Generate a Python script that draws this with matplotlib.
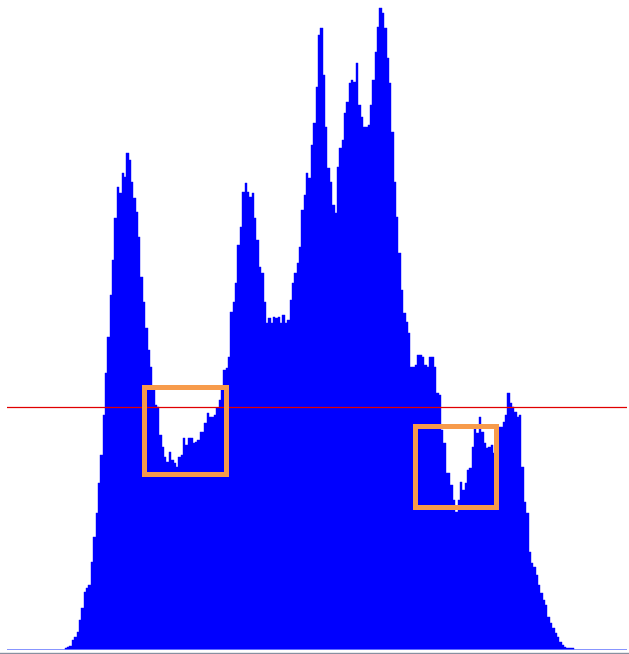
import matplotlib
matplotlib.use("Agg")
import matplotlib.pyplot as plt
from matplotlib.patches import Rectangle
from matplotlib.lines import Line2D
import numpy as np

# histogram counts, one per bin
counts = [
    2, 3, 4, 10, 13, 18, 30, 42, 58, 62, 65, 88,
    113, 137, 167, 195, 235, 277, 313, 355, 390, 432,
    463, 457, 477, 473, 497, 490, 468, 452, 438, 413,
    373, 348, 322, 300, 283, 260, 245, 243, 215, 203,
    193, 188, 198, 190, 187, 183, 193, 195, 212, 205,
    212, 212, 207, 208, 210, 218, 218, 227, 237, 233,
    233, 235, 242, 250, 260, 280, 282, 293,
    338, 348, 367, 405, 423, 458, 467, 458, 453, 457,
    432, 410, 383, 377, 348, 327, 332, 327, 333, 332,
    333, 327, 335, 327, 330, 350, 367, 377, 387, 403,
    440, 455,
    477, 472, 505, 527, 563, 615, 622, 575, 523, 482,
    468, 445, 437, 483, 502, 510, 537, 548, 567, 570,
    568, 587, 545, 533, 523, 523, 525, 545, 570, 598,
    623, 642, 637, 622, 592, 567, 518, 468, 433, 397,
    360, 337, 328, 317, 283, 283, 285, 295, 295, 293,
    285, 283, 293, 293, 283, 257, 255, 220, 207, 177,
    177, 165, 150, 138, 150, 168, 160, 167, 180, 182,
    203, 225, 217, 233,
    218, 207, 202, 203, 205, 197, 195, 223, 223, 228,
    235, 257, 247, 243, 238, 233, 235, 183, 148, 137,
    98, 87, 83, 75, 65, 57, 50, 45, 33, 27,
    22, 17, 13, 8, 5, 3, 2, 2, 2,
]
bins = np.arange(len(counts))

threshold = 243

# highlighted valleys: (bin from, bin to, count low, count high)
boxes = [(33.7, 68.2, 176.5, 263), (148.1, 182.4, 143, 224)]

fig = plt.figure(figsize=(6.29, 6.54), dpi=100)
ax = fig.add_axes([7/629, 4/654, 620/629, 650/654])

ax.bar(bins, counts, width=1.0, align="edge", color="#0000FF",
       edgecolor="#0000FF", linewidth=0.3)

ax.axhline(0, color="#7080FF", lw=1.2)
ax.axhline(threshold, color="#E00000", lw=0.9)

for x0, x1, y0, y1 in boxes:
    ax.add_patch(Rectangle((x0, y0), x1 - x0, y1 - y0, fill=False,
                           edgecolor="#F79B4B", lw=3.6, zorder=5))

ax.set_xlim(-24.4, 237.6)
ax.set_ylim(0, 650)
ax.axis("off")

fig.add_artist(Line2D([0, 1], [1.5/654, 1.5/654], color="#8890A0", lw=1))

fig.savefig("out.png", dpi=100)
